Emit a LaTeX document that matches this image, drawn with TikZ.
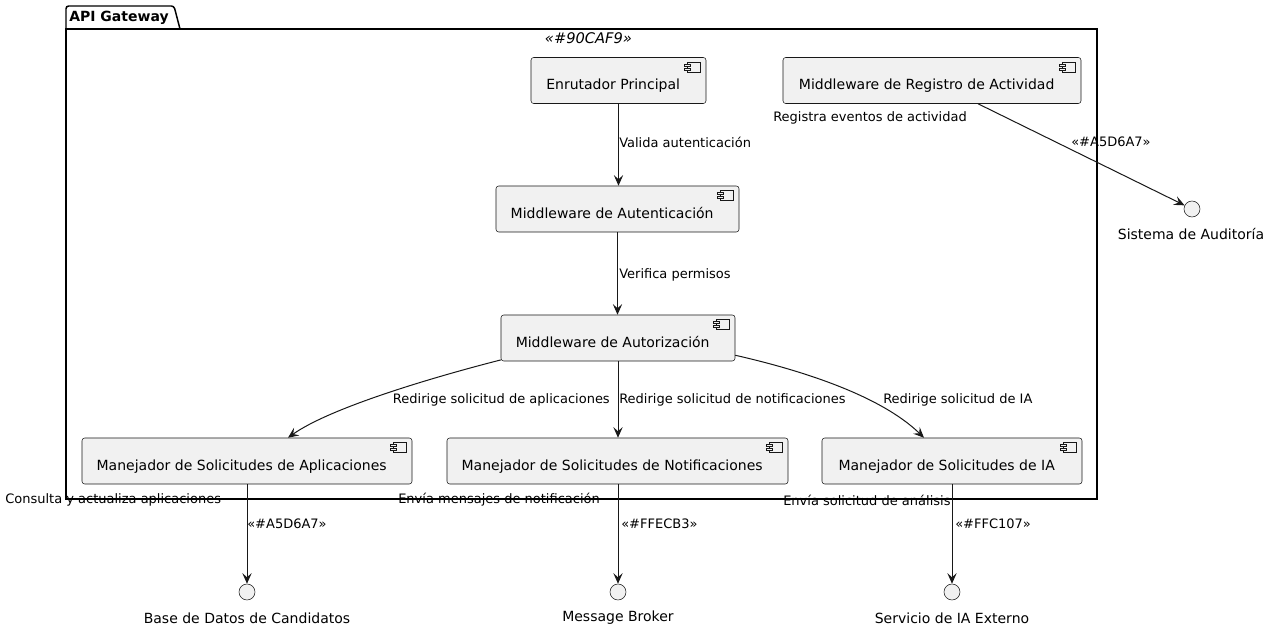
\documentclass[tikz,border=0pt]{standalone}
\usepackage{fontspec}
\setmainfont{DejaVu Sans}
\usetikzlibrary{arrows.meta}
\definecolor{boxfill}{HTML}{F1F1F1}
\definecolor{boxline}{HTML}{181818}
\newcommand{\lblfont}{\fontsize{9.75}{11.5}\selectfont}
\newcommand{\bigfont}{\fontsize{10.5}{12}\selectfont}
\begin{document}
\begin{tikzpicture}[x=0.75pt,y=-0.75pt,
  comp/.style={draw=boxline, fill=boxfill, rounded corners=2pt, line width=0.4pt,
    minimum height=34.5pt, inner sep=0pt, font=\bigfont, text height=14.2pt, text depth=0pt,
    execute at end node={\hspace*{8pt}}},
  iface/.style={circle, draw=boxline, fill=boxfill, line width=0.4pt, minimum size=12pt, inner sep=0pt},
  lbl/.style={inner sep=0pt, font=\lblfont},
  ilbl/.style={inner sep=0pt, font=\bigfont},
  edge/.style={draw=boxline, line width=0.75pt, -{Stealth[length=8pt,width=7pt,inset=3.2pt]}},
  pkg/.style={draw=black, line width=1.1pt}]
\path[fill=white] (0,0) rectangle (1272,630);
\useasboundingbox (0,0) rectangle (1272,630);
% package
\draw[pkg, rounded corners=2pt] (66,29) -- (66,6) -- (174,6) [sharp corners] -- (180,29);
\draw[pkg] (66,29) rectangle (1097,499);
\node[inner sep=0pt, anchor=west, font=\bigfont\bfseries] (pkgname) at (69,17.5) {API Gateway};
\node[inner sep=0pt, font=\fontsize{11}{12}\selectfont\itshape] (pkgst) at (588.5,38) {«\#90CAF9»};
% components
\node[comp, minimum width=131.25pt] (enr) at (618.5,80.5) {Enrutador Principal};
\node[comp, minimum width=223.5pt] (reg) at (932,80.5) {Middleware de Registro de Actividad};
\node[comp, minimum width=182.25pt] (auth) at (617.5,209) {Middleware de Autenticación};
\node[comp, minimum width=175.5pt] (autz) at (618,338) {Middleware de Autorización};
\node[comp, minimum width=247.5pt] (app) at (247,461) {Manejador de Solicitudes de Aplicaciones};
\node[comp, minimum width=255.75pt] (notif) at (617.5,461) {Manejador de Solicitudes de Notificaciones};
\node[comp, minimum width=195pt] (ia) at (952,461) {Manejador de Solicitudes de IA};
% component icons
\foreach \n in {enr,reg,auth,autz,app,notif,ia}{
  \begin{scope}[shift={(\n.north east)}, draw=boxline, line width=0.4pt]
    \draw[fill=boxfill] (-19,5) rectangle (-6,15);
    \draw[fill=boxfill] (-22,7) rectangle (-16,9);
    \draw[fill=boxfill] (-22,11) rectangle (-16,13);
  \end{scope}
}
% interfaces
\node[iface] (aud) at (1192,209) {};
\node[iface] (db) at (247,592) {};
\node[iface] (mb) at (618,592) {};
\node[iface] (svc) at (952,592) {};
\node[ilbl] (audl) at (1191,234) {Sistema de Auditoría};
\node[ilbl] (dbl) at (247,618) {Base de Datos de Candidatos};
\node[ilbl] (mbl) at (618,618) {Message Broker};
\node[ilbl] (svcl) at (952,618) {Servicio de IA Externo};
% connectors
\draw[edge] (enr.south) -- (enr.south |- auth.north);
\draw[edge] (auth.south) -- (auth.south |- autz.north);
\draw[edge] (autz.south) -- (autz.south |- notif.north);
\draw[edge] ([yshift=1pt]autz.south west) .. controls (430,378) and (330,408) .. ([xshift=30.75pt]app.north);
\draw[edge] ([yshift=4.5pt]autz.south east) .. controls (800,370) and (880,395) .. ([xshift=-21pt]ia.north);
\draw[edge] ([xshift=34.5pt]reg.south) -- (aud);
\draw[edge] (app.south) -- (db);
\draw[edge] (notif.south -| mb) -- (mb);
\draw[edge] (ia.south) -- (svc);
% labels
\node[lbl, anchor=west] (l1) at (619,142) {Valida autenticación};
\node[lbl, anchor=west] (l2) at (619,275) {Verifica permisos};
\node[lbl, anchor=east] (l3) at (610,400) {Redirige solicitud de aplicaciones};
\node[lbl, anchor=west] (l4) at (619,400) {Redirige solicitud de notificaciones};
\node[lbl, anchor=west] (l5) at (883,400) {Redirige solicitud de IA};
\node[lbl, anchor=west] (l6) at (773,118) {Registra eventos de actividad};
\node[lbl, anchor=west] (l7) at (1071,142) {«\#A5D6A7»};
\node[lbl, anchor=west] (l8) at (5,500) {Consulta y actualiza aplicaciones};
\node[lbl, anchor=west] (l9) at (247,524) {«\#A5D6A7»};
\node[lbl, anchor=west] (l10) at (398,500) {Envía mensajes de notificación};
\node[lbl, anchor=west] (l11) at (621,524) {«\#FFECB3»};
\node[lbl, anchor=west] (l12) at (783,500) {Envía solicitud de análisis};
\node[lbl, anchor=west] (l13) at (955,524) {«\#FFC107»};
\end{tikzpicture}
\end{document}
